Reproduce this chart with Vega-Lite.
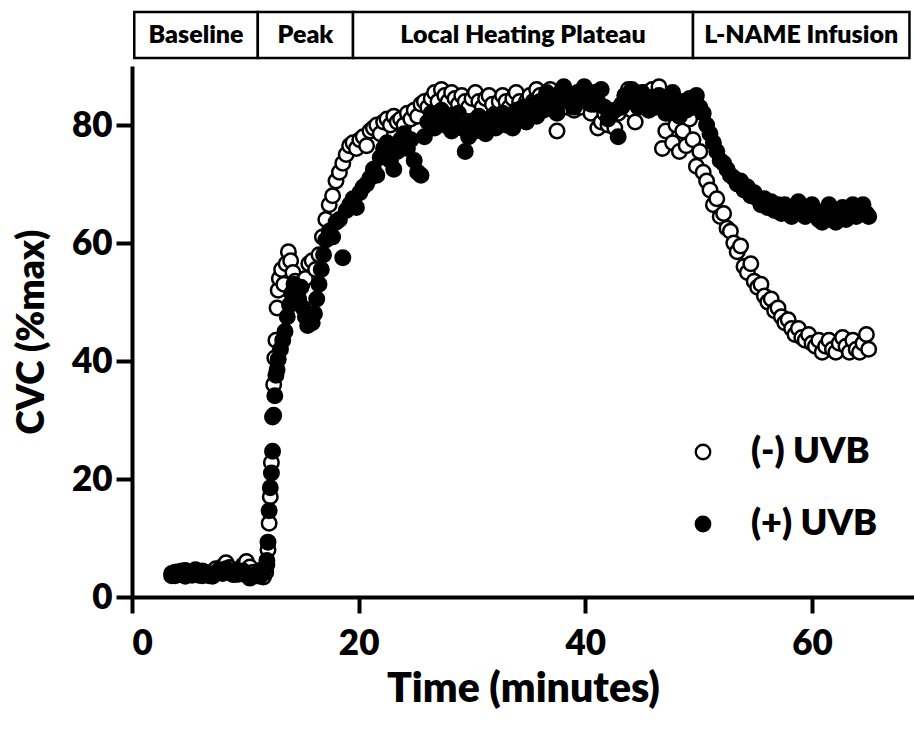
{
"$schema":"https://vega.github.io/schema/vega-lite/v6.json",
"padding":{"left":13,"top":10,"right":0,"bottom":0},
"spacing":6,
"config":{"font":"Lato","view":{"stroke":null},
"axis":{"domainColor":"black","domainWidth":4,"tickColor":"black","tickWidth":4,"tickSize":16,"labelFont":"Lato","labelFontSize":35,"labelFontWeight":800,"labelColor":"black","titleFont":"Lato","titleFontSize":37,"titleFontWeight":800,"titleColor":"black","grid":false}},
"vconcat":[
{"width":782,"height":46,
"data":{"values":[{"phase":"Baseline","start":0.2,"end":11.1},{"phase":"Peak","start":11.1,"end":19.5},{"phase":"Local Heating Plateau","start":19.5,"end":49.5},{"phase":"L-NAME Infusion","start":49.5,"end":68.6}]},
"transform":[{"calculate":"(datum.start+datum.end)/2","as":"mid"}],
"layer":[
{"mark":{"type":"rect","fill":"white","stroke":"black","strokeWidth":2.5},
"encoding":{"x":{"field":"start","type":"quantitative","scale":{"domain":[0,69],"nice":false},"axis":null},"x2":{"field":"end"}}},
{"mark":{"type":"text","font":"Lato","fontWeight":800,"fontSize":25,"color":"black","baseline":"middle","align":"center"},
"encoding":{"x":{"field":"mid","type":"quantitative","scale":{"domain":[0,69],"nice":false},"axis":null},"text":{"field":"phase"}}}
]},
{"width":782,"height":531,
"data":{"values":[
{"g":"(-) UVB","t":3.5,"v":4.0},{"g":"(-) UVB","t":3.8,"v":3.6},{"g":"(-) UVB","t":4.1,"v":4.3},{"g":"(-) UVB","t":4.4,"v":3.8},{"g":"(-) UVB","t":4.7,"v":4.5},{"g":"(-) UVB","t":5.0,"v":3.9},{"g":"(-) UVB","t":5.3,"v":4.2},{"g":"(-) UVB","t":5.6,"v":4.6},{"g":"(-) UVB","t":5.9,"v":3.7},{"g":"(-) UVB","t":6.2,"v":4.4},{"g":"(-) UVB","t":6.5,"v":4.0},{"g":"(-) UVB","t":6.8,"v":3.6},{"g":"(-) UVB","t":7.1,"v":4.2},{"g":"(-) UVB","t":7.4,"v":4.8},{"g":"(-) UVB","t":7.7,"v":4.3},{"g":"(-) UVB","t":8.0,"v":5.2},{"g":"(-) UVB","t":8.3,"v":5.8},{"g":"(-) UVB","t":8.6,"v":5.0},{"g":"(-) UVB","t":8.9,"v":4.4},{"g":"(-) UVB","t":9.2,"v":3.8},{"g":"(-) UVB","t":9.5,"v":4.6},{"g":"(-) UVB","t":9.8,"v":5.4},{"g":"(-) UVB","t":10.1,"v":6.0},{"g":"(-) UVB","t":10.4,"v":5.1},{"g":"(-) UVB","t":10.7,"v":4.2},{"g":"(-) UVB","t":11.0,"v":3.6},{"g":"(-) UVB","t":11.3,"v":4.5},{"g":"(-) UVB","t":11.6,"v":3.4},{"g":"(-) UVB","t":11.8,"v":4.2},{"g":"(-) UVB","t":11.9,"v":5.5},{"g":"(-) UVB","t":12.0,"v":8.0},{"g":"(-) UVB","t":12.1,"v":12.5},{"g":"(-) UVB","t":12.2,"v":17.0},{"g":"(-) UVB","t":12.3,"v":22.8},{"g":"(-) UVB","t":12.4,"v":30.5},{"g":"(-) UVB","t":12.5,"v":36.0},{"g":"(-) UVB","t":12.6,"v":40.5},{"g":"(-) UVB","t":12.7,"v":43.5},{"g":"(-) UVB","t":12.8,"v":49.0},{"g":"(-) UVB","t":12.9,"v":52.0},{"g":"(-) UVB","t":13.0,"v":54.0},{"g":"(-) UVB","t":13.2,"v":55.5},{"g":"(-) UVB","t":13.4,"v":53.0},{"g":"(-) UVB","t":13.6,"v":56.5},{"g":"(-) UVB","t":13.8,"v":58.5},{"g":"(-) UVB","t":14.0,"v":57.0},{"g":"(-) UVB","t":14.2,"v":55.0},{"g":"(-) UVB","t":14.4,"v":53.5},{"g":"(-) UVB","t":14.6,"v":51.0},{"g":"(-) UVB","t":14.8,"v":52.5},{"g":"(-) UVB","t":15.0,"v":53.0},{"g":"(-) UVB","t":15.3,"v":54.0},{"g":"(-) UVB","t":15.6,"v":56.5},{"g":"(-) UVB","t":15.9,"v":57.0},{"g":"(-) UVB","t":16.2,"v":55.5},{"g":"(-) UVB","t":16.5,"v":58.0},{"g":"(-) UVB","t":16.8,"v":61.0},{"g":"(-) UVB","t":17.1,"v":64.0},{"g":"(-) UVB","t":17.4,"v":66.5},{"g":"(-) UVB","t":17.7,"v":68.0},{"g":"(-) UVB","t":18.0,"v":70.5},{"g":"(-) UVB","t":18.3,"v":72.0},{"g":"(-) UVB","t":18.6,"v":73.5},{"g":"(-) UVB","t":18.9,"v":75.0},{"g":"(-) UVB","t":19.2,"v":76.5},{"g":"(-) UVB","t":19.5,"v":77.0},{"g":"(-) UVB","t":19.8,"v":76.0},{"g":"(-) UVB","t":20.1,"v":77.5},{"g":"(-) UVB","t":20.4,"v":78.0},{"g":"(-) UVB","t":20.7,"v":76.5},{"g":"(-) UVB","t":21.0,"v":79.0},{"g":"(-) UVB","t":21.3,"v":79.5},{"g":"(-) UVB","t":21.6,"v":80.0},{"g":"(-) UVB","t":21.9,"v":78.5},{"g":"(-) UVB","t":22.2,"v":80.5},{"g":"(-) UVB","t":22.5,"v":81.0},{"g":"(-) UVB","t":22.8,"v":80.0},{"g":"(-) UVB","t":23.1,"v":81.5},{"g":"(-) UVB","t":23.4,"v":80.5},{"g":"(-) UVB","t":23.7,"v":81.0},{"g":"(-) UVB","t":24.0,"v":80.0},{"g":"(-) UVB","t":24.3,"v":82.0},{"g":"(-) UVB","t":24.6,"v":81.0},{"g":"(-) UVB","t":24.9,"v":82.5},{"g":"(-) UVB","t":25.2,"v":81.5},{"g":"(-) UVB","t":25.5,"v":83.5},{"g":"(-) UVB","t":25.8,"v":84.0},{"g":"(-) UVB","t":26.1,"v":83.0},{"g":"(-) UVB","t":26.4,"v":84.5},{"g":"(-) UVB","t":26.7,"v":85.5},{"g":"(-) UVB","t":27.0,"v":84.0},{"g":"(-) UVB","t":27.3,"v":86.0},{"g":"(-) UVB","t":27.6,"v":85.0},{"g":"(-) UVB","t":27.9,"v":84.0},{"g":"(-) UVB","t":28.2,"v":85.5},{"g":"(-) UVB","t":28.5,"v":84.5},{"g":"(-) UVB","t":28.8,"v":83.5},{"g":"(-) UVB","t":29.1,"v":85.0},{"g":"(-) UVB","t":29.4,"v":84.0},{"g":"(-) UVB","t":29.7,"v":83.0},{"g":"(-) UVB","t":30.0,"v":84.5},{"g":"(-) UVB","t":30.3,"v":85.5},{"g":"(-) UVB","t":30.6,"v":84.0},{"g":"(-) UVB","t":30.9,"v":83.0},{"g":"(-) UVB","t":31.2,"v":84.5},{"g":"(-) UVB","t":31.5,"v":85.0},{"g":"(-) UVB","t":31.8,"v":83.5},{"g":"(-) UVB","t":32.1,"v":82.0},{"g":"(-) UVB","t":32.4,"v":84.0},{"g":"(-) UVB","t":32.7,"v":85.0},{"g":"(-) UVB","t":33.0,"v":84.0},{"g":"(-) UVB","t":33.3,"v":83.0},{"g":"(-) UVB","t":33.6,"v":84.5},{"g":"(-) UVB","t":33.9,"v":85.5},{"g":"(-) UVB","t":34.2,"v":84.0},{"g":"(-) UVB","t":34.5,"v":83.0},{"g":"(-) UVB","t":34.8,"v":84.0},{"g":"(-) UVB","t":35.1,"v":85.0},{"g":"(-) UVB","t":35.4,"v":84.0},{"g":"(-) UVB","t":35.7,"v":86.0},{"g":"(-) UVB","t":36.0,"v":85.0},{"g":"(-) UVB","t":36.3,"v":84.0},{"g":"(-) UVB","t":36.6,"v":85.5},{"g":"(-) UVB","t":36.9,"v":86.0},{"g":"(-) UVB","t":37.2,"v":84.5},{"g":"(-) UVB","t":37.5,"v":79.0},{"g":"(-) UVB","t":37.8,"v":85.0},{"g":"(-) UVB","t":38.1,"v":84.0},{"g":"(-) UVB","t":38.4,"v":83.0},{"g":"(-) UVB","t":38.7,"v":84.5},{"g":"(-) UVB","t":39.0,"v":82.5},{"g":"(-) UVB","t":39.3,"v":84.0},{"g":"(-) UVB","t":39.6,"v":83.0},{"g":"(-) UVB","t":39.9,"v":85.0},{"g":"(-) UVB","t":40.2,"v":84.0},{"g":"(-) UVB","t":40.5,"v":82.0},{"g":"(-) UVB","t":40.8,"v":83.5},{"g":"(-) UVB","t":41.1,"v":79.5},{"g":"(-) UVB","t":41.4,"v":80.5},{"g":"(-) UVB","t":41.7,"v":82.0},{"g":"(-) UVB","t":42.0,"v":80.0},{"g":"(-) UVB","t":42.3,"v":81.0},{"g":"(-) UVB","t":42.6,"v":79.5},{"g":"(-) UVB","t":42.9,"v":82.0},{"g":"(-) UVB","t":43.2,"v":83.5},{"g":"(-) UVB","t":43.5,"v":85.0},{"g":"(-) UVB","t":43.8,"v":86.0},{"g":"(-) UVB","t":44.1,"v":82.5},{"g":"(-) UVB","t":44.4,"v":80.5},{"g":"(-) UVB","t":44.7,"v":83.0},{"g":"(-) UVB","t":45.0,"v":84.5},{"g":"(-) UVB","t":45.3,"v":85.5},{"g":"(-) UVB","t":45.6,"v":84.0},{"g":"(-) UVB","t":45.9,"v":86.0},{"g":"(-) UVB","t":46.2,"v":85.0},{"g":"(-) UVB","t":46.5,"v":86.5},{"g":"(-) UVB","t":46.8,"v":76.0},{"g":"(-) UVB","t":47.1,"v":79.0},{"g":"(-) UVB","t":47.4,"v":82.0},{"g":"(-) UVB","t":47.7,"v":77.0},{"g":"(-) UVB","t":48.0,"v":80.0},{"g":"(-) UVB","t":48.3,"v":75.5},{"g":"(-) UVB","t":48.6,"v":79.0},{"g":"(-) UVB","t":48.9,"v":76.5},{"g":"(-) UVB","t":49.2,"v":81.0},{"g":"(-) UVB","t":49.5,"v":77.5},{"g":"(-) UVB","t":49.8,"v":73.0},{"g":"(-) UVB","t":50.1,"v":75.5},{"g":"(-) UVB","t":50.4,"v":72.0},{"g":"(-) UVB","t":50.7,"v":70.5},{"g":"(-) UVB","t":51.0,"v":69.0},{"g":"(-) UVB","t":51.3,"v":66.5},{"g":"(-) UVB","t":51.6,"v":67.5},{"g":"(-) UVB","t":51.9,"v":64.5},{"g":"(-) UVB","t":52.2,"v":65.0},{"g":"(-) UVB","t":52.5,"v":62.5},{"g":"(-) UVB","t":52.8,"v":62.0},{"g":"(-) UVB","t":53.1,"v":60.0},{"g":"(-) UVB","t":53.4,"v":58.5},{"g":"(-) UVB","t":53.7,"v":59.5},{"g":"(-) UVB","t":54.0,"v":56.0},{"g":"(-) UVB","t":54.3,"v":55.0},{"g":"(-) UVB","t":54.6,"v":56.5},{"g":"(-) UVB","t":54.9,"v":53.5},{"g":"(-) UVB","t":55.2,"v":52.5},{"g":"(-) UVB","t":55.5,"v":53.0},{"g":"(-) UVB","t":55.8,"v":51.0},{"g":"(-) UVB","t":56.1,"v":50.0},{"g":"(-) UVB","t":56.4,"v":50.5},{"g":"(-) UVB","t":56.7,"v":48.5},{"g":"(-) UVB","t":57.0,"v":49.0},{"g":"(-) UVB","t":57.3,"v":47.5},{"g":"(-) UVB","t":57.6,"v":46.5},{"g":"(-) UVB","t":57.9,"v":47.0},{"g":"(-) UVB","t":58.2,"v":45.5},{"g":"(-) UVB","t":58.5,"v":44.5},{"g":"(-) UVB","t":58.8,"v":45.5},{"g":"(-) UVB","t":59.1,"v":44.0},{"g":"(-) UVB","t":59.4,"v":43.5},{"g":"(-) UVB","t":59.7,"v":44.5},{"g":"(-) UVB","t":60.0,"v":43.0},{"g":"(-) UVB","t":60.3,"v":42.5},{"g":"(-) UVB","t":60.6,"v":43.5},{"g":"(-) UVB","t":60.9,"v":41.5},{"g":"(-) UVB","t":61.2,"v":42.5},{"g":"(-) UVB","t":61.5,"v":43.5},{"g":"(-) UVB","t":61.8,"v":42.0},{"g":"(-) UVB","t":62.1,"v":41.5},{"g":"(-) UVB","t":62.4,"v":43.0},{"g":"(-) UVB","t":62.7,"v":44.0},{"g":"(-) UVB","t":63.0,"v":42.5},{"g":"(-) UVB","t":63.3,"v":41.5},{"g":"(-) UVB","t":63.6,"v":43.5},{"g":"(-) UVB","t":63.9,"v":42.0},{"g":"(-) UVB","t":64.2,"v":41.5},{"g":"(-) UVB","t":64.5,"v":43.0},{"g":"(-) UVB","t":64.8,"v":44.5},{"g":"(-) UVB","t":65.0,"v":42.0},
{"g":"(+) UVB","t":3.5,"v":3.6},{"g":"(+) UVB","t":3.8,"v":4.2},{"g":"(+) UVB","t":4.1,"v":3.8},{"g":"(+) UVB","t":4.4,"v":4.4},{"g":"(+) UVB","t":4.7,"v":3.5},{"g":"(+) UVB","t":5.0,"v":4.1},{"g":"(+) UVB","t":5.3,"v":3.7},{"g":"(+) UVB","t":5.6,"v":4.3},{"g":"(+) UVB","t":5.9,"v":4.0},{"g":"(+) UVB","t":6.2,"v":3.6},{"g":"(+) UVB","t":6.5,"v":4.2},{"g":"(+) UVB","t":6.8,"v":3.9},{"g":"(+) UVB","t":7.1,"v":3.5},{"g":"(+) UVB","t":7.4,"v":4.1},{"g":"(+) UVB","t":7.7,"v":4.6},{"g":"(+) UVB","t":8.0,"v":4.0},{"g":"(+) UVB","t":8.3,"v":4.8},{"g":"(+) UVB","t":8.6,"v":4.3},{"g":"(+) UVB","t":8.9,"v":3.8},{"g":"(+) UVB","t":9.2,"v":4.5},{"g":"(+) UVB","t":9.5,"v":3.9},{"g":"(+) UVB","t":9.8,"v":4.4},{"g":"(+) UVB","t":10.1,"v":3.7},{"g":"(+) UVB","t":10.4,"v":3.2},{"g":"(+) UVB","t":10.7,"v":3.6},{"g":"(+) UVB","t":11.0,"v":4.0},{"g":"(+) UVB","t":11.3,"v":3.5},{"g":"(+) UVB","t":11.6,"v":4.3},{"g":"(+) UVB","t":11.8,"v":5.0},{"g":"(+) UVB","t":11.9,"v":6.2},{"g":"(+) UVB","t":12.0,"v":9.3},{"g":"(+) UVB","t":12.1,"v":14.6},{"g":"(+) UVB","t":12.2,"v":18.5},{"g":"(+) UVB","t":12.3,"v":21.0},{"g":"(+) UVB","t":12.4,"v":24.7},{"g":"(+) UVB","t":12.5,"v":30.8},{"g":"(+) UVB","t":12.6,"v":34.1},{"g":"(+) UVB","t":12.7,"v":37.6},{"g":"(+) UVB","t":12.8,"v":38.5},{"g":"(+) UVB","t":12.9,"v":40.3},{"g":"(+) UVB","t":13.1,"v":42.0},{"g":"(+) UVB","t":13.3,"v":43.5},{"g":"(+) UVB","t":13.5,"v":45.0},{"g":"(+) UVB","t":13.7,"v":47.5},{"g":"(+) UVB","t":13.9,"v":49.5},{"g":"(+) UVB","t":14.1,"v":51.5},{"g":"(+) UVB","t":14.3,"v":53.0},{"g":"(+) UVB","t":14.5,"v":52.0},{"g":"(+) UVB","t":14.7,"v":50.5},{"g":"(+) UVB","t":14.9,"v":52.5},{"g":"(+) UVB","t":15.1,"v":49.0},{"g":"(+) UVB","t":15.3,"v":47.5},{"g":"(+) UVB","t":15.5,"v":46.0},{"g":"(+) UVB","t":15.7,"v":47.0},{"g":"(+) UVB","t":15.9,"v":46.5},{"g":"(+) UVB","t":16.1,"v":48.0},{"g":"(+) UVB","t":16.3,"v":50.5},{"g":"(+) UVB","t":16.5,"v":53.0},{"g":"(+) UVB","t":16.7,"v":55.5},{"g":"(+) UVB","t":16.9,"v":58.0},{"g":"(+) UVB","t":17.1,"v":60.5},{"g":"(+) UVB","t":17.4,"v":62.0},{"g":"(+) UVB","t":17.7,"v":61.0},{"g":"(+) UVB","t":18.0,"v":63.5},{"g":"(+) UVB","t":18.3,"v":64.0},{"g":"(+) UVB","t":18.6,"v":57.5},{"g":"(+) UVB","t":18.9,"v":65.5},{"g":"(+) UVB","t":19.2,"v":66.5},{"g":"(+) UVB","t":19.5,"v":67.5},{"g":"(+) UVB","t":19.8,"v":66.0},{"g":"(+) UVB","t":20.1,"v":68.5},{"g":"(+) UVB","t":20.4,"v":69.5},{"g":"(+) UVB","t":20.7,"v":70.0},{"g":"(+) UVB","t":21.0,"v":71.0},{"g":"(+) UVB","t":21.3,"v":72.5},{"g":"(+) UVB","t":21.6,"v":71.5},{"g":"(+) UVB","t":21.9,"v":74.5},{"g":"(+) UVB","t":22.2,"v":76.0},{"g":"(+) UVB","t":22.5,"v":77.0},{"g":"(+) UVB","t":22.8,"v":74.0},{"g":"(+) UVB","t":23.1,"v":72.5},{"g":"(+) UVB","t":23.4,"v":75.5},{"g":"(+) UVB","t":23.7,"v":77.5},{"g":"(+) UVB","t":24.0,"v":78.5},{"g":"(+) UVB","t":24.3,"v":76.0},{"g":"(+) UVB","t":24.6,"v":77.5},{"g":"(+) UVB","t":24.9,"v":74.0},{"g":"(+) UVB","t":25.2,"v":72.0},{"g":"(+) UVB","t":25.5,"v":71.5},{"g":"(+) UVB","t":25.8,"v":78.0},{"g":"(+) UVB","t":26.1,"v":80.5},{"g":"(+) UVB","t":26.4,"v":82.0},{"g":"(+) UVB","t":26.7,"v":79.5},{"g":"(+) UVB","t":27.0,"v":81.0},{"g":"(+) UVB","t":27.3,"v":82.5},{"g":"(+) UVB","t":27.6,"v":80.0},{"g":"(+) UVB","t":27.9,"v":81.5},{"g":"(+) UVB","t":28.2,"v":79.0},{"g":"(+) UVB","t":28.5,"v":80.5},{"g":"(+) UVB","t":28.8,"v":82.0},{"g":"(+) UVB","t":29.1,"v":79.5},{"g":"(+) UVB","t":29.4,"v":75.5},{"g":"(+) UVB","t":29.7,"v":78.0},{"g":"(+) UVB","t":30.0,"v":80.5},{"g":"(+) UVB","t":30.3,"v":79.0},{"g":"(+) UVB","t":30.6,"v":81.5},{"g":"(+) UVB","t":30.9,"v":80.0},{"g":"(+) UVB","t":31.2,"v":78.5},{"g":"(+) UVB","t":31.5,"v":80.0},{"g":"(+) UVB","t":31.8,"v":81.5},{"g":"(+) UVB","t":32.1,"v":79.5},{"g":"(+) UVB","t":32.4,"v":81.0},{"g":"(+) UVB","t":32.7,"v":82.0},{"g":"(+) UVB","t":33.0,"v":80.0},{"g":"(+) UVB","t":33.3,"v":81.5},{"g":"(+) UVB","t":33.6,"v":79.5},{"g":"(+) UVB","t":33.9,"v":82.5},{"g":"(+) UVB","t":34.2,"v":81.0},{"g":"(+) UVB","t":34.5,"v":83.0},{"g":"(+) UVB","t":34.8,"v":80.5},{"g":"(+) UVB","t":35.1,"v":82.0},{"g":"(+) UVB","t":35.4,"v":83.5},{"g":"(+) UVB","t":35.7,"v":81.5},{"g":"(+) UVB","t":36.0,"v":84.0},{"g":"(+) UVB","t":36.3,"v":82.5},{"g":"(+) UVB","t":36.6,"v":85.5},{"g":"(+) UVB","t":36.9,"v":83.0},{"g":"(+) UVB","t":37.2,"v":84.5},{"g":"(+) UVB","t":37.5,"v":82.0},{"g":"(+) UVB","t":37.8,"v":85.5},{"g":"(+) UVB","t":38.1,"v":86.5},{"g":"(+) UVB","t":38.4,"v":84.0},{"g":"(+) UVB","t":38.7,"v":85.0},{"g":"(+) UVB","t":39.0,"v":83.0},{"g":"(+) UVB","t":39.3,"v":85.5},{"g":"(+) UVB","t":39.6,"v":84.0},{"g":"(+) UVB","t":39.9,"v":86.5},{"g":"(+) UVB","t":40.2,"v":85.0},{"g":"(+) UVB","t":40.5,"v":83.5},{"g":"(+) UVB","t":40.8,"v":85.5},{"g":"(+) UVB","t":41.1,"v":84.0},{"g":"(+) UVB","t":41.4,"v":86.0},{"g":"(+) UVB","t":41.7,"v":83.0},{"g":"(+) UVB","t":42.0,"v":81.0},{"g":"(+) UVB","t":42.3,"v":82.0},{"g":"(+) UVB","t":42.6,"v":82.5},{"g":"(+) UVB","t":42.9,"v":78.0},{"g":"(+) UVB","t":43.2,"v":83.0},{"g":"(+) UVB","t":43.5,"v":85.0},{"g":"(+) UVB","t":43.8,"v":84.0},{"g":"(+) UVB","t":44.1,"v":86.0},{"g":"(+) UVB","t":44.4,"v":84.5},{"g":"(+) UVB","t":44.7,"v":83.0},{"g":"(+) UVB","t":45.0,"v":85.5},{"g":"(+) UVB","t":45.3,"v":84.0},{"g":"(+) UVB","t":45.6,"v":82.5},{"g":"(+) UVB","t":45.9,"v":84.5},{"g":"(+) UVB","t":46.2,"v":83.0},{"g":"(+) UVB","t":46.5,"v":85.0},{"g":"(+) UVB","t":46.8,"v":83.5},{"g":"(+) UVB","t":47.1,"v":82.0},{"g":"(+) UVB","t":47.4,"v":84.0},{"g":"(+) UVB","t":47.7,"v":85.5},{"g":"(+) UVB","t":48.0,"v":83.0},{"g":"(+) UVB","t":48.3,"v":81.5},{"g":"(+) UVB","t":48.6,"v":84.0},{"g":"(+) UVB","t":48.9,"v":82.5},{"g":"(+) UVB","t":49.2,"v":84.5},{"g":"(+) UVB","t":49.5,"v":83.0},{"g":"(+) UVB","t":49.8,"v":85.0},{"g":"(+) UVB","t":50.1,"v":83.0},{"g":"(+) UVB","t":50.4,"v":82.0},{"g":"(+) UVB","t":50.7,"v":80.0},{"g":"(+) UVB","t":51.0,"v":78.5},{"g":"(+) UVB","t":51.3,"v":77.0},{"g":"(+) UVB","t":51.6,"v":75.5},{"g":"(+) UVB","t":51.9,"v":74.0},{"g":"(+) UVB","t":52.2,"v":73.5},{"g":"(+) UVB","t":52.5,"v":72.5},{"g":"(+) UVB","t":52.8,"v":71.5},{"g":"(+) UVB","t":53.1,"v":71.0},{"g":"(+) UVB","t":53.4,"v":70.0},{"g":"(+) UVB","t":53.7,"v":70.5},{"g":"(+) UVB","t":54.0,"v":69.0},{"g":"(+) UVB","t":54.3,"v":69.5},{"g":"(+) UVB","t":54.6,"v":68.0},{"g":"(+) UVB","t":54.9,"v":68.5},{"g":"(+) UVB","t":55.2,"v":67.5},{"g":"(+) UVB","t":55.5,"v":66.5},{"g":"(+) UVB","t":55.8,"v":67.5},{"g":"(+) UVB","t":56.1,"v":66.0},{"g":"(+) UVB","t":56.4,"v":67.0},{"g":"(+) UVB","t":56.7,"v":65.5},{"g":"(+) UVB","t":57.0,"v":66.5},{"g":"(+) UVB","t":57.3,"v":65.0},{"g":"(+) UVB","t":57.6,"v":66.5},{"g":"(+) UVB","t":57.9,"v":65.5},{"g":"(+) UVB","t":58.2,"v":64.5},{"g":"(+) UVB","t":58.5,"v":66.0},{"g":"(+) UVB","t":58.8,"v":67.0},{"g":"(+) UVB","t":59.1,"v":65.0},{"g":"(+) UVB","t":59.4,"v":64.5},{"g":"(+) UVB","t":59.7,"v":65.5},{"g":"(+) UVB","t":60.0,"v":66.5},{"g":"(+) UVB","t":60.3,"v":65.0},{"g":"(+) UVB","t":60.6,"v":64.0},{"g":"(+) UVB","t":60.9,"v":63.5},{"g":"(+) UVB","t":61.2,"v":65.5},{"g":"(+) UVB","t":61.5,"v":66.5},{"g":"(+) UVB","t":61.8,"v":64.5},{"g":"(+) UVB","t":62.1,"v":63.5},{"g":"(+) UVB","t":62.4,"v":65.0},{"g":"(+) UVB","t":62.7,"v":66.0},{"g":"(+) UVB","t":63.0,"v":64.0},{"g":"(+) UVB","t":63.3,"v":65.5},{"g":"(+) UVB","t":63.6,"v":66.5},{"g":"(+) UVB","t":63.9,"v":64.5},{"g":"(+) UVB","t":64.2,"v":65.0},{"g":"(+) UVB","t":64.5,"v":66.5},{"g":"(+) UVB","t":64.8,"v":65.0},{"g":"(+) UVB","t":65.0,"v":64.5}
]},
"mark":{"type":"point","shape":"circle","size":210,"stroke":"black","strokeWidth":2.5,"opacity":1},
"encoding":{
"x":{"field":"t","type":"quantitative","scale":{"domain":[0,69],"nice":false},"axis":{"values":[0,20,40,60],"title":"Time (minutes)","titleFontSize":41,"labelPadding":13,"titlePadding":8}},
"y":{"field":"v","type":"quantitative","scale":{"domain":[0,90],"nice":false},"axis":{"values":[0,20,40,60,80],"title":"CVC (%max)","labelPadding":4,"titlePadding":20}},
"fill":{"field":"g","type":"nominal","scale":{"domain":["(-) UVB","(+) UVB"],"range":["white","black"]},
"legend":{"orient":"none","legendX":553,"legendY":422,"title":null,"labelFont":"Lato","labelFontSize":36,"labelFontWeight":800,"labelColor":"black","symbolType":"circle","symbolSize":210,"symbolStrokeColor":"black","symbolStrokeWidth":2.3,"labelOffset":30,"rowPadding":36,"padding":0}}
}}
]}
